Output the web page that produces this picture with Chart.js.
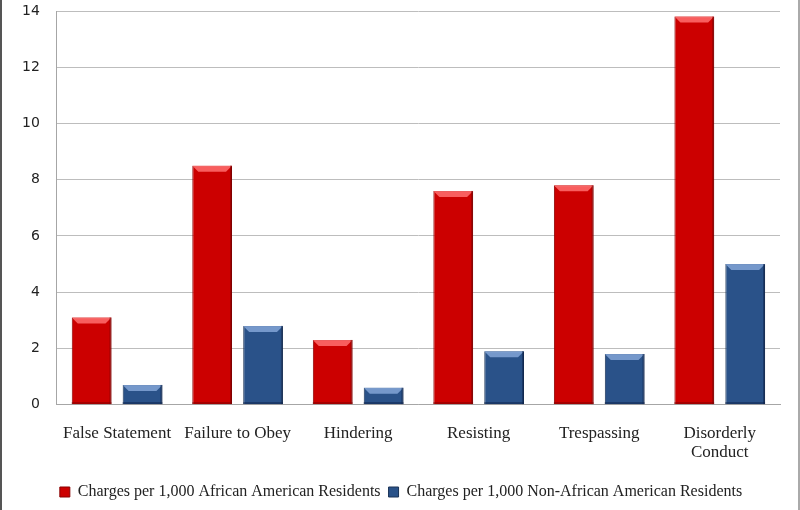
<html lang="en">
<head>
  <meta charset="UTF-8" />
  <title>Charges per 1,000 Residents</title>
  <script src="https://cdn.jsdelivr.net/npm/chart.js"></script>
  <style>
    body { margin: 0; background: #fff; }
    #wrap { width: 796px; height: 510px; border-left: 2px solid #555; border-right: 2px solid #aaa; }
  </style>
</head>
<body>
  <div id="wrap"><canvas id="chart"></canvas></div>

  <script>
    const categories = ["False Statement", "Failure to Obey", "Hindering", "Resisting", "Trespassing", ["Disorderly", "Conduct"]];
    const africanAmerican = [3.1, 8.5, 2.3, 7.6, 7.8, 13.8];
    const nonAfricanAmerican = [0.7, 2.8, 0.6, 1.9, 1.8, 5.0];
    const yTicks = [0, 2, 4, 6, 8, 10, 12, 14];

    // little bevel on each bar, like the office 3d style
    const bevel = {
      id: "bevel",
      afterDatasetsDraw(chart) {
        const ctx = chart.ctx;
        const shades = [
          { top: "rgba(255,110,110,0.85)", side: "rgba(120,0,0,0.5)" },
          { top: "rgba(130,165,215,0.85)", side: "rgba(10,30,70,0.5)" }
        ];
        chart.data.datasets.forEach((ds, i) => {
          chart.getDatasetMeta(i).data.forEach(bar => {
            const l = bar.x - bar.width / 2, r = bar.x + bar.width / 2;
            const t = bar.y, b = bar.base, d = 6;
            ctx.save();
            ctx.fillStyle = shades[i].top;
            ctx.beginPath();
            ctx.moveTo(l, t); ctx.lineTo(r, t); ctx.lineTo(r - d, t + d); ctx.lineTo(l + d, t + d);
            ctx.closePath(); ctx.fill();
            ctx.fillStyle = shades[i].side;
            ctx.fillRect(r - 2, t, 2, b - t);
            ctx.fillRect(l, b - 2, r - l, 2);
            ctx.restore();
          });
        });
      }
    };

    new Chart(document.getElementById("chart"), {
      type: "bar",
      data: {
        labels: categories,
        datasets: [
          {
            label: "Charges per 1,000 African American Residents",
            data: africanAmerican,
            backgroundColor: "#cc0000",
            borderColor: "#8a0000",
            borderWidth: 1
          },
          {
            label: "Charges per 1,000 Non-African American Residents",
            data: nonAfricanAmerican,
            backgroundColor: "#2a5289",
            borderColor: "#1a3357",
            borderWidth: 1
          }
        ]
      },
      plugins: [bevel],
      options: {
        responsive: true,
        maintainAspectRatio: false,
        animation: false,
        layout: { padding: { top: 11, right: 18, bottom: 0, left: 20 } },
        categoryPercentage: 0.845,
        barPercentage: 0.78,
        scales: {
          x: {
            grid: { display: false, drawTicks: false },
            border: { color: "#a6a6a6" },
            afterFit: axis => { axis.height -= 6; },
            ticks: {
              color: "#222",
              padding: 20,
              maxRotation: 0,
              font: { family: "Liberation Serif", size: 17, lineHeight: 1.1 }
            }
          },
          y: {
            min: 0,
            max: 14,
            afterBuildTicks: axis => { axis.ticks = yTicks.map(v => ({ value: v })); },
            grid: { color: "#bdbdbd", drawTicks: true, tickLength: 17, tickColor: "rgba(0,0,0,0)" },
            border: { color: "#a6a6a6" },
            ticks: {
              color: "#222",
              padding: 0,
              font: { family: "DejaVu Sans", size: 14 }
            }
          }
        },
        plugins: {
          legend: {
            position: "bottom",
            labels: {
              color: "#222",
              boxWidth: 10,
              boxHeight: 10,
              padding: 8,
              font: { family: "Liberation Serif", size: 16 }
            }
          },
          tooltip: { enabled: false }
        }
      }
    });
  </script>
</body>
</html>
